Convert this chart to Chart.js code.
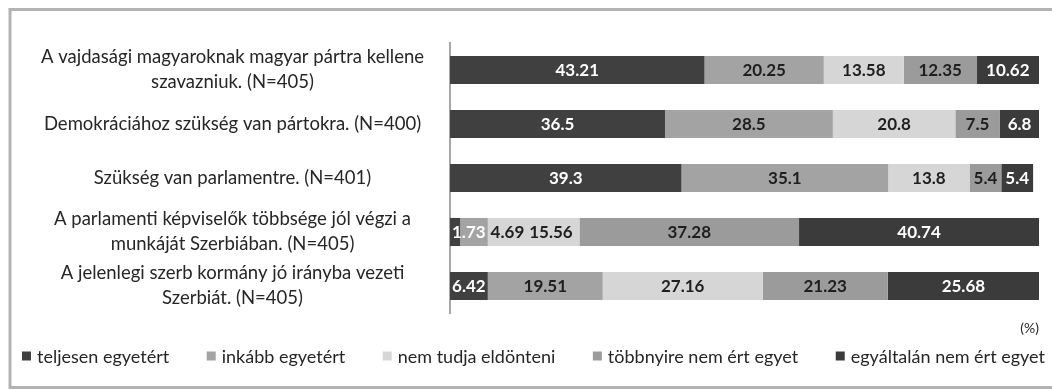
<!DOCTYPE html>
<html>
<head>
<meta charset="utf-8">
<script src="https://cdn.jsdelivr.net/npm/chart.js@4/dist/chart.umd.min.js"></script>
<style>
  html, body { margin: 0; padding: 0; background: #fff; }
  #wrap { position: relative; width: 1052px; height: 390px; }
</style>
</head>
<body>
<div id="wrap"><canvas id="c" width="1052" height="390"></canvas></div>
<script>
// Survey statements (row labels)
const categories = [
  ['A vajdasági magyaroknak magyar pártra kellene', 'szavazniuk. (N=405)'],
  'Demokráciához szükség van pártokra. (N=400)',
  'Szükség van parlamentre. (N=401)',
  ['A parlamenti képviselők többsége jól végzi a', 'munkáját Szerbiában. (N=405)'],
  ['A jelenlegi szerb kormány jó irányba vezeti', 'Szerbiát. (N=405)']
];

// Answer options (series names)
const seriesNames = [
  'teljesen egyetért',
  'inkább egyetért',
  'nem tudja eldönteni',
  'többnyire nem ért egyet',
  'egyáltalán nem ért egyet'
];

// Shares of answers, in percent
const teljesenEgyetert = [43.21, 36.5, 39.3, 1.73, 6.42];
const inkabbEgyetert = [20.25, 28.5, 35.1, 4.69, 19.51];
const nemTudjaEldonteni = [13.58, 20.8, 13.8, 15.56, 27.16];
const tobbnyireNemErtEgyet = [12.35, 7.5, 5.4, 37.28, 21.23];
const egyaltalanNemErtEgyet = [10.62, 6.8, 5.4, 40.74, 25.68];

const seriesValues = [teljesenEgyetert, inkabbEgyetert, nemTudjaEldonteni, tobbnyireNemErtEgyet, egyaltalanNemErtEgyet];
const fills = ['#404040', '#a3a3a3', '#d6d6d6', '#9b9b9b', '#3b3b3b'];
const labelColors = ['#ffffff', '#1e1e1e', '#1e1e1e', '#1e1e1e', '#ffffff'];

const FONT = 'Lato, "DejaVu Sans", sans-serif';

// White page with a grey frame around the chart
const framePlugin = {
  id: 'frame',
  beforeDraw(chart) {
    const ctx = chart.ctx;
    ctx.save();
    ctx.fillStyle = '#ffffff';
    ctx.fillRect(0, 0, chart.width, chart.height);
    ctx.strokeStyle = '#b3b3b3';
    ctx.lineWidth = 3;
    ctx.strokeRect(10, 9.5, chart.width + 10, 378);
    ctx.restore();
  }
};

// Value labels inside the segments; a label is pushed right when it would collide with the one before it
const valueLabelPlugin = {
  id: 'valueLabels',
  afterDatasetsDraw(chart) {
    const ctx = chart.ctx;
    ctx.save();
    ctx.font = 'bold 17px ' + FONT;
    ctx.textAlign = 'center';
    ctx.textBaseline = 'middle';
    const rows = chart.data.labels.length;
    for (let i = 0; i < rows; i++) {
      let prevEnd = -Infinity;
      chart.data.datasets.forEach((ds, d) => {
        const bar = chart.getDatasetMeta(d).data[i];
        if (!bar) return;
        const text = String(ds.data[i]);
        const w = ctx.measureText(text).width;
        const start = Math.min(bar.base, bar.x);
        const end = Math.max(bar.base, bar.x);
        let cx = (start + end) / 2;
        if (d === 0) cx = Math.max(cx, start + w / 2 + 2);
        cx = Math.max(cx, prevEnd + 5 + w / 2);
        prevEnd = cx + w / 2;
        ctx.fillStyle = labelColors[d];
        ctx.fillText(text, cx, bar.y + 1);
      });
    }
    ctx.restore();
  }
};

// One-row legend spread across the bottom of the frame
const spreadLegendPlugin = {
  id: 'spreadLegend',
  afterDraw(chart) {
    const ctx = chart.ctx;
    const left = 22, right = 1045, y = 356, box = 9, gapBoxText = 6;
    ctx.save();
    ctx.font = '18px ' + FONT;
    ctx.textBaseline = 'middle';
    ctx.textAlign = 'left';
    const items = chart.data.datasets.map(ds => ({
      text: ds.label,
      color: ds.backgroundColor,
      w: box + gapBoxText + ctx.measureText(ds.label).width
    }));
    const total = items.reduce((s, it) => s + it.w, 0);
    const gap = (right - left - total) / (items.length - 1);
    let x = left;
    items.forEach(it => {
      ctx.fillStyle = it.color;
      ctx.fillRect(x, y - box / 2, box, box);
      ctx.fillStyle = '#262626';
      ctx.fillText(it.text, x + box + gapBoxText, y + 1);
      x += it.w + gap;
    });
    ctx.restore();
  }
};

new Chart(document.getElementById('c'), {
  type: 'bar',
  data: {
    labels: categories,
    datasets: seriesNames.map((name, k) => ({
      label: name,
      data: seriesValues[k],
      backgroundColor: fills[k],
      borderWidth: 0,
      categoryPercentage: 1,
      barPercentage: 0.52
    }))
  },
  options: {
    indexAxis: 'y',
    responsive: false,
    animation: false,
    events: [],
    layout: { padding: { left: 18, right: 13, top: 28, bottom: 53 } },
    scales: {
      x: {
        stacked: true,
        min: 0,
        max: 100,
        grid: { display: false },
        border: { display: false },
        ticks: { display: false },
        title: {
          display: true,
          text: '(%)',
          align: 'end',
          color: '#262626',
          font: { family: FONT, size: 14 },
          padding: { top: 3, bottom: 0 }
        },
        afterFit(scale) { scale.height = 24; }
      },
      y: {
        stacked: true,
        grid: { display: false },
        border: { display: true, color: '#a8a8a8', width: 2 },
        ticks: {
          autoSkip: false,
          crossAlign: 'center',
          padding: 18,
          color: '#262626',
          font: { family: FONT, size: 18.5, lineHeight: 1.35 }
        },
        afterFit(scale) { scale.width = 432; }
      }
    },
    plugins: {
      legend: { display: false },
      tooltip: { enabled: false }
    }
  },
  plugins: [framePlugin, valueLabelPlugin, spreadLegendPlugin]
});
</script>
</body>
</html>
